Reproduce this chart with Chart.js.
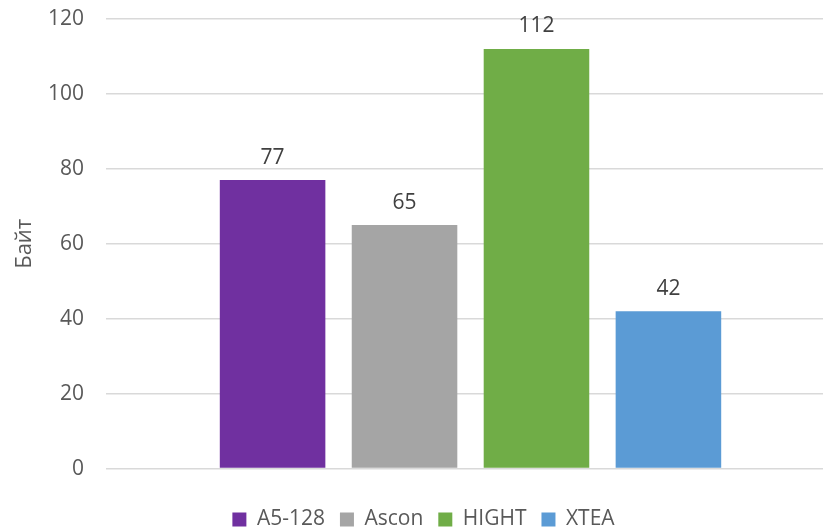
<!DOCTYPE html>
<html>
<head>
<meta charset="utf-8">
<script src="https://cdn.jsdelivr.net/npm/chart.js@4/dist/chart.umd.min.js"></script>
<style>
  html, body { margin: 0; padding: 0; background: #fff; overflow: hidden; }
  #wrap { width: 835px; height: 530px; }
</style>
</head>
<body>
<div id="wrap"><canvas id="chart" width="835" height="530"></canvas></div>
<script>
// данные
const categories = [''];
const seriesNames = ['A5-128', 'Ascon', 'HIGHT', 'XTEA'];
const seriesValues = [77, 65, 112, 42];
const seriesColors = ['#7030a0', '#a5a5a5', '#70ad47', '#5b9bd5'];
const yTicks = [0, 20, 40, 60, 80, 100, 120];

const fontName = '"Open Sans", "DejaVu Sans", sans-serif';

// подписи значений над столбцами
const valueLabels = {
    id: 'valueLabels',
    afterDatasetsDraw(chart) {
        const ctx = chart.ctx;
        ctx.save();
        ctx.font = '21px ' + fontName;
        ctx.fillStyle = '#404040';
        ctx.textAlign = 'center';
        ctx.textBaseline = 'bottom';
        chart.data.datasets.forEach((ds, i) => {
            chart.getDatasetMeta(i).data.forEach((bar, j) => {
                ctx.fillText(ds.data[j], bar.x, bar.y - 12);
            });
        });
        ctx.restore();
    }
};

const datasets = seriesNames.map((name, i) => ({
    label: name,
    data: [seriesValues[i]],
    backgroundColor: seriesColors[i],
    categoryPercentage: 0.724,
    barPercentage: 0.8
}));

new Chart(document.getElementById('chart'), {
    type: 'bar',
    data: { labels: categories, datasets: datasets },
    plugins: [valueLabels],
    options: {
        responsive: false,
        animation: false,
        layout: { padding: { top: 19, bottom: -10, left: 12 } },
        plugins: {
            legend: {
                position: 'bottom',
                title: { display: true, text: ' ', font: { size: 14.5 }, padding: 0 },
                labels: {
                    font: { family: fontName, size: 21 },
                    color: '#595959',
                    boxWidth: 14,
                    boxHeight: 14,
                    padding: 15
                }
            },
            tooltip: { enabled: false }
        },
        scales: {
            x: {
                ticks: { display: false },
                grid: { display: false },
                border: { display: false }
            },
            y: {
                min: 0,
                max: 120,
                afterBuildTicks(axis) { axis.ticks = yTicks.map(v => ({ value: v })); },
                afterFit(axis) { axis.width = 94; axis.paddingTop = 0; axis.paddingBottom = 0; },
                ticks: {
                    font: { family: fontName, size: 21 },
                    color: '#595959',
                    padding: 22
                },
                grid: { color: '#d9d9d9', lineWidth: 1.5, drawTicks: false },
                border: { display: false },
                title: {
                    display: true,
                    text: 'Байт',
                    font: { family: fontName, size: 22 },
                    color: '#595959',
                    padding: { top: 0, bottom: 0 }
                }
            }
        }
    }
});
</script>
</body>
</html>
